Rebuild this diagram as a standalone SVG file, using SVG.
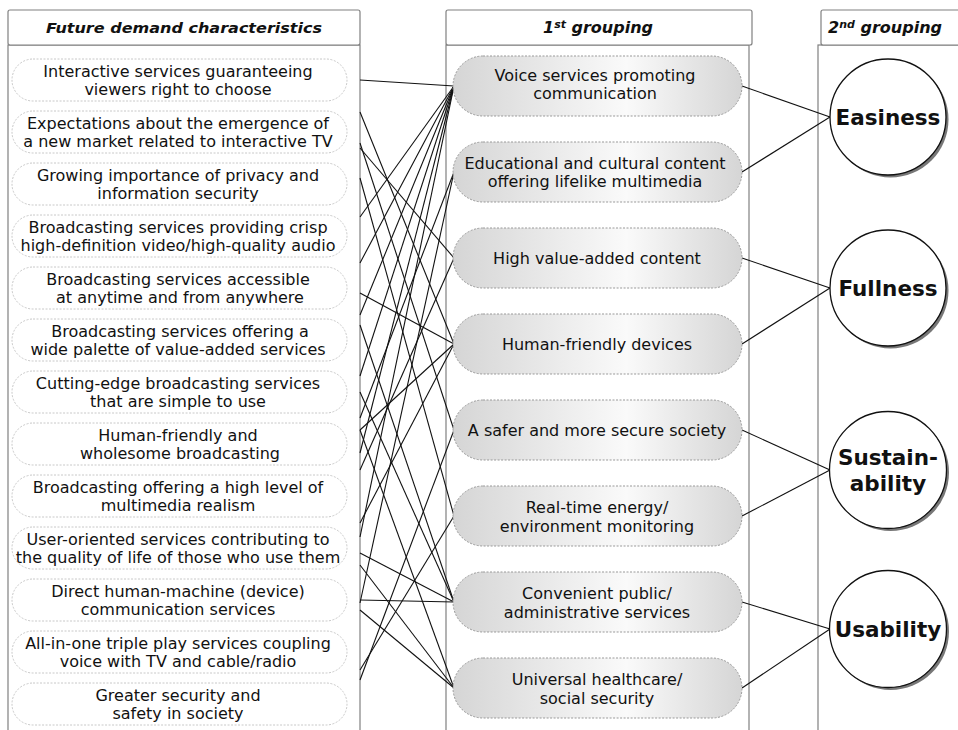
<svg xmlns="http://www.w3.org/2000/svg" width="958" height="730" viewBox="0 0 958 730">
<style>
text{font-family:"DejaVu Sans",Verdana,sans-serif;fill:#111}
.panel{fill:#fff;stroke:#808080;stroke-width:1.2}
.hdr{font-size:14.5px;font-weight:bold;font-style:italic;text-anchor:middle}
.hdr2{font-size:16px;font-weight:bold;font-style:italic;text-anchor:middle}
.lp{fill:#fff;stroke:#c8c8c8;stroke-width:1;stroke-dasharray:2 1.5}
.lt{font-size:16px;text-anchor:middle}
.mp{fill:url(#g);stroke:#999;stroke-width:1;stroke-dasharray:2 1.5}
.mt{font-size:16px;text-anchor:middle}
.ct{font-size:21.5px;font-weight:bold;text-anchor:middle}
.c{fill:#fff;stroke:#111;stroke-width:1.3}
.sh{fill:#777}
#connectors line{stroke:#111;stroke-width:1.1}
</style>
<defs>
<linearGradient id="g" x1="0" y1="0" x2="1" y2="0">
<stop offset="0" stop-color="#d5d5d5"/>
<stop offset="0.6" stop-color="#fafafa"/>
<stop offset="1" stop-color="#d5d5d5"/>
</linearGradient>
</defs>
<rect width="958" height="730" fill="#fff"/>

<g id="panels">
<rect class="panel" x="8" y="45" width="352" height="700"/>
<rect class="panel" x="8" y="10" width="352" height="35" rx="2"/>
<rect class="panel" x="446" y="45" width="303" height="700"/>
<rect class="panel" x="446" y="10" width="306" height="35" rx="2"/>
<rect class="panel" x="818" y="45" width="160" height="700"/>
<rect class="panel" x="821" y="10" width="160" height="35" rx="2"/>
<text class="hdr" x="184" y="33" textLength="276" lengthAdjust="spacingAndGlyphs">Future demand characteristics</text>
<text class="hdr2" x="598" y="33">1<tspan font-size="11" dy="-5">st</tspan><tspan dy="5"> grouping</tspan></text>
<text class="hdr2" x="885" y="33">2<tspan font-size="11" dy="-5">nd</tspan><tspan dy="5"> grouping</tspan></text>
</g>

<g id="connectors">
<line x1="360" y1="80" x2="454" y2="86"/>
<line x1="360" y1="112" x2="454" y2="344"/>
<line x1="360" y1="143" x2="454" y2="430"/>
<line x1="360" y1="148" x2="454" y2="258"/>
<line x1="360" y1="178" x2="454" y2="516"/>
<line x1="360" y1="217" x2="454" y2="86"/>
<line x1="360" y1="263" x2="454" y2="86"/>
<line x1="360" y1="293" x2="454" y2="344"/>
<line x1="360" y1="315" x2="454" y2="86"/>
<line x1="360" y1="325" x2="454" y2="602"/>
<line x1="360" y1="376" x2="454" y2="86"/>
<line x1="360" y1="392" x2="454" y2="602"/>
<line x1="360" y1="418" x2="454" y2="172"/>
<line x1="360" y1="430" x2="454" y2="344"/>
<line x1="360" y1="430" x2="454" y2="688"/>
<line x1="360" y1="453" x2="454" y2="86"/>
<line x1="360" y1="470" x2="454" y2="258"/>
<line x1="360" y1="523" x2="454" y2="344"/>
<line x1="360" y1="537" x2="454" y2="86"/>
<line x1="360" y1="553" x2="454" y2="602"/>
<line x1="360" y1="565" x2="454" y2="688"/>
<line x1="360" y1="600" x2="454" y2="602"/>
<line x1="360" y1="610" x2="454" y2="688"/>
<line x1="360" y1="670" x2="454" y2="516"/>
<line x1="360" y1="680" x2="454" y2="430"/>
<line x1="360" y1="603" x2="454" y2="172"/>
<line x1="742" y1="86" x2="830" y2="117"/>
<line x1="742" y1="172" x2="830" y2="117"/>
<line x1="742" y1="258" x2="830" y2="288"/>
<line x1="742" y1="344" x2="830" y2="288"/>
<line x1="742" y1="430" x2="830" y2="470"/>
<line x1="742" y1="516" x2="830" y2="470"/>
<line x1="742" y1="602" x2="830" y2="629"/>
<line x1="742" y1="688" x2="830" y2="629"/>
</g>

<g id="left-nodes">
<g id="L1"><rect class="lp" x="12" y="59" width="335" height="42" rx="21"/><text class="lt" x="178" y="76.5">Interactive services guaranteeing</text><text class="lt" x="178" y="95">viewers right to choose</text></g>
<g id="L2"><rect class="lp" x="12" y="111" width="335" height="42" rx="21"/><text class="lt" x="178" y="128.5">Expectations about the emergence of</text><text class="lt" x="178" y="147">a new market related to interactive TV</text></g>
<g id="L3"><rect class="lp" x="12" y="163" width="335" height="42" rx="21"/><text class="lt" x="178" y="180.5">Growing importance of privacy and</text><text class="lt" x="178" y="199">information security</text></g>
<g id="L4"><rect class="lp" x="12" y="215" width="335" height="42" rx="21"/><text class="lt" x="178" y="232.5">Broadcasting services providing crisp</text><text class="lt" x="178" y="251">high-definition video/high-quality audio</text></g>
<g id="L5"><rect class="lp" x="12" y="267" width="335" height="42" rx="21"/><text class="lt" x="178" y="284.5">Broadcasting services accessible</text><text class="lt" x="180" y="303">at anytime and from anywhere</text></g>
<g id="L6"><rect class="lp" x="12" y="319" width="335" height="42" rx="21"/><text class="lt" x="180" y="336.5">Broadcasting services offering a</text><text class="lt" x="178" y="355">wide palette of value-added services</text></g>
<g id="L7"><rect class="lp" x="12" y="371" width="335" height="42" rx="21"/><text class="lt" x="178" y="388.5">Cutting-edge broadcasting services</text><text class="lt" x="178" y="407">that are simple to use</text></g>
<g id="L8"><rect class="lp" x="12" y="423" width="335" height="42" rx="21"/><text class="lt" x="178" y="440.5">Human-friendly and</text><text class="lt" x="180" y="459">wholesome broadcasting</text></g>
<g id="L9"><rect class="lp" x="12" y="475" width="335" height="42" rx="21"/><text class="lt" x="178" y="492.5">Broadcasting offering a high level of</text><text class="lt" x="178" y="511">multimedia realism</text></g>
<g id="L10"><rect class="lp" x="12" y="527" width="335" height="42" rx="21"/><text class="lt" x="178" y="544.5">User-oriented services contributing to</text><text class="lt" x="178" y="563">the quality of life of those who use them</text></g>
<g id="L11"><rect class="lp" x="12" y="579" width="335" height="42" rx="21"/><text class="lt" x="178" y="596.5">Direct human-machine (device)</text><text class="lt" x="178" y="615">communication services</text></g>
<g id="L12"><rect class="lp" x="12" y="631" width="335" height="42" rx="21"/><text class="lt" x="178" y="648.5">All-in-one triple play services coupling</text><text class="lt" x="178" y="667">voice with TV and cable/radio</text></g>
<g id="L13"><rect class="lp" x="12" y="683" width="335" height="42" rx="21"/><text class="lt" x="178" y="700.5">Greater security and</text><text class="lt" x="178" y="719">safety in society</text></g>
</g>

<g id="mid-nodes">
<g id="M1"><rect class="mp" x="453" y="56" width="289" height="60" rx="30"/><text class="mt" x="595" y="81">Voice services promoting</text><text class="mt" x="595" y="99">communication</text></g>
<g id="M2"><rect class="mp" x="453" y="142" width="289" height="60" rx="30"/><text class="mt" x="595" y="168.5">Educational and cultural content</text><text class="mt" x="595" y="187">offering lifelike multimedia</text></g>
<g id="M3"><rect class="mp" x="453" y="228" width="289" height="60" rx="30"/><text class="mt" x="597" y="263.5">High value-added content</text></g>
<g id="M4"><rect class="mp" x="453" y="314" width="289" height="60" rx="30"/><text class="mt" x="597" y="349.5">Human-friendly devices</text></g>
<g id="M5"><rect class="mp" x="453" y="400" width="289" height="60" rx="30"/><text class="mt" x="597" y="435.5">A safer and more secure society</text></g>
<g id="M6"><rect class="mp" x="453" y="486" width="289" height="60" rx="30"/><text class="mt" x="597" y="512.5">Real-time energy/</text><text class="mt" x="597" y="531.5">environment monitoring</text></g>
<g id="M7"><rect class="mp" x="453" y="572" width="289" height="60" rx="30"/><text class="mt" x="597" y="598.5">Convenient public/</text><text class="mt" x="597" y="617.5">administrative services</text></g>
<g id="M8"><rect class="mp" x="453" y="658" width="289" height="60" rx="30"/><text class="mt" x="597" y="684.5">Universal healthcare/</text><text class="mt" x="597" y="703.5">social security</text></g>
</g>

<g id="circles">
<g id="C1"><circle class="sh" cx="890.5" cy="119.5" r="58"/><circle class="c" cx="888" cy="117" r="58"/><text class="ct" x="888" y="125">Easiness</text></g>
<g id="C2"><circle class="sh" cx="890.5" cy="290.5" r="58"/><circle class="c" cx="888" cy="288" r="58"/><text class="ct" x="888" y="296">Fullness</text></g>
<g id="C3"><circle class="sh" cx="890.5" cy="472.5" r="58.5"/><circle class="c" cx="888" cy="470" r="58.5"/><text class="ct" x="888" y="465">Sustain-</text><text class="ct" x="888" y="490.5">ability</text></g>
<g id="C4"><circle class="sh" cx="890.5" cy="631.5" r="58.5"/><circle class="c" cx="888" cy="629" r="58.5"/><text class="ct" x="888" y="637">Usability</text></g>
</g>
</svg>
